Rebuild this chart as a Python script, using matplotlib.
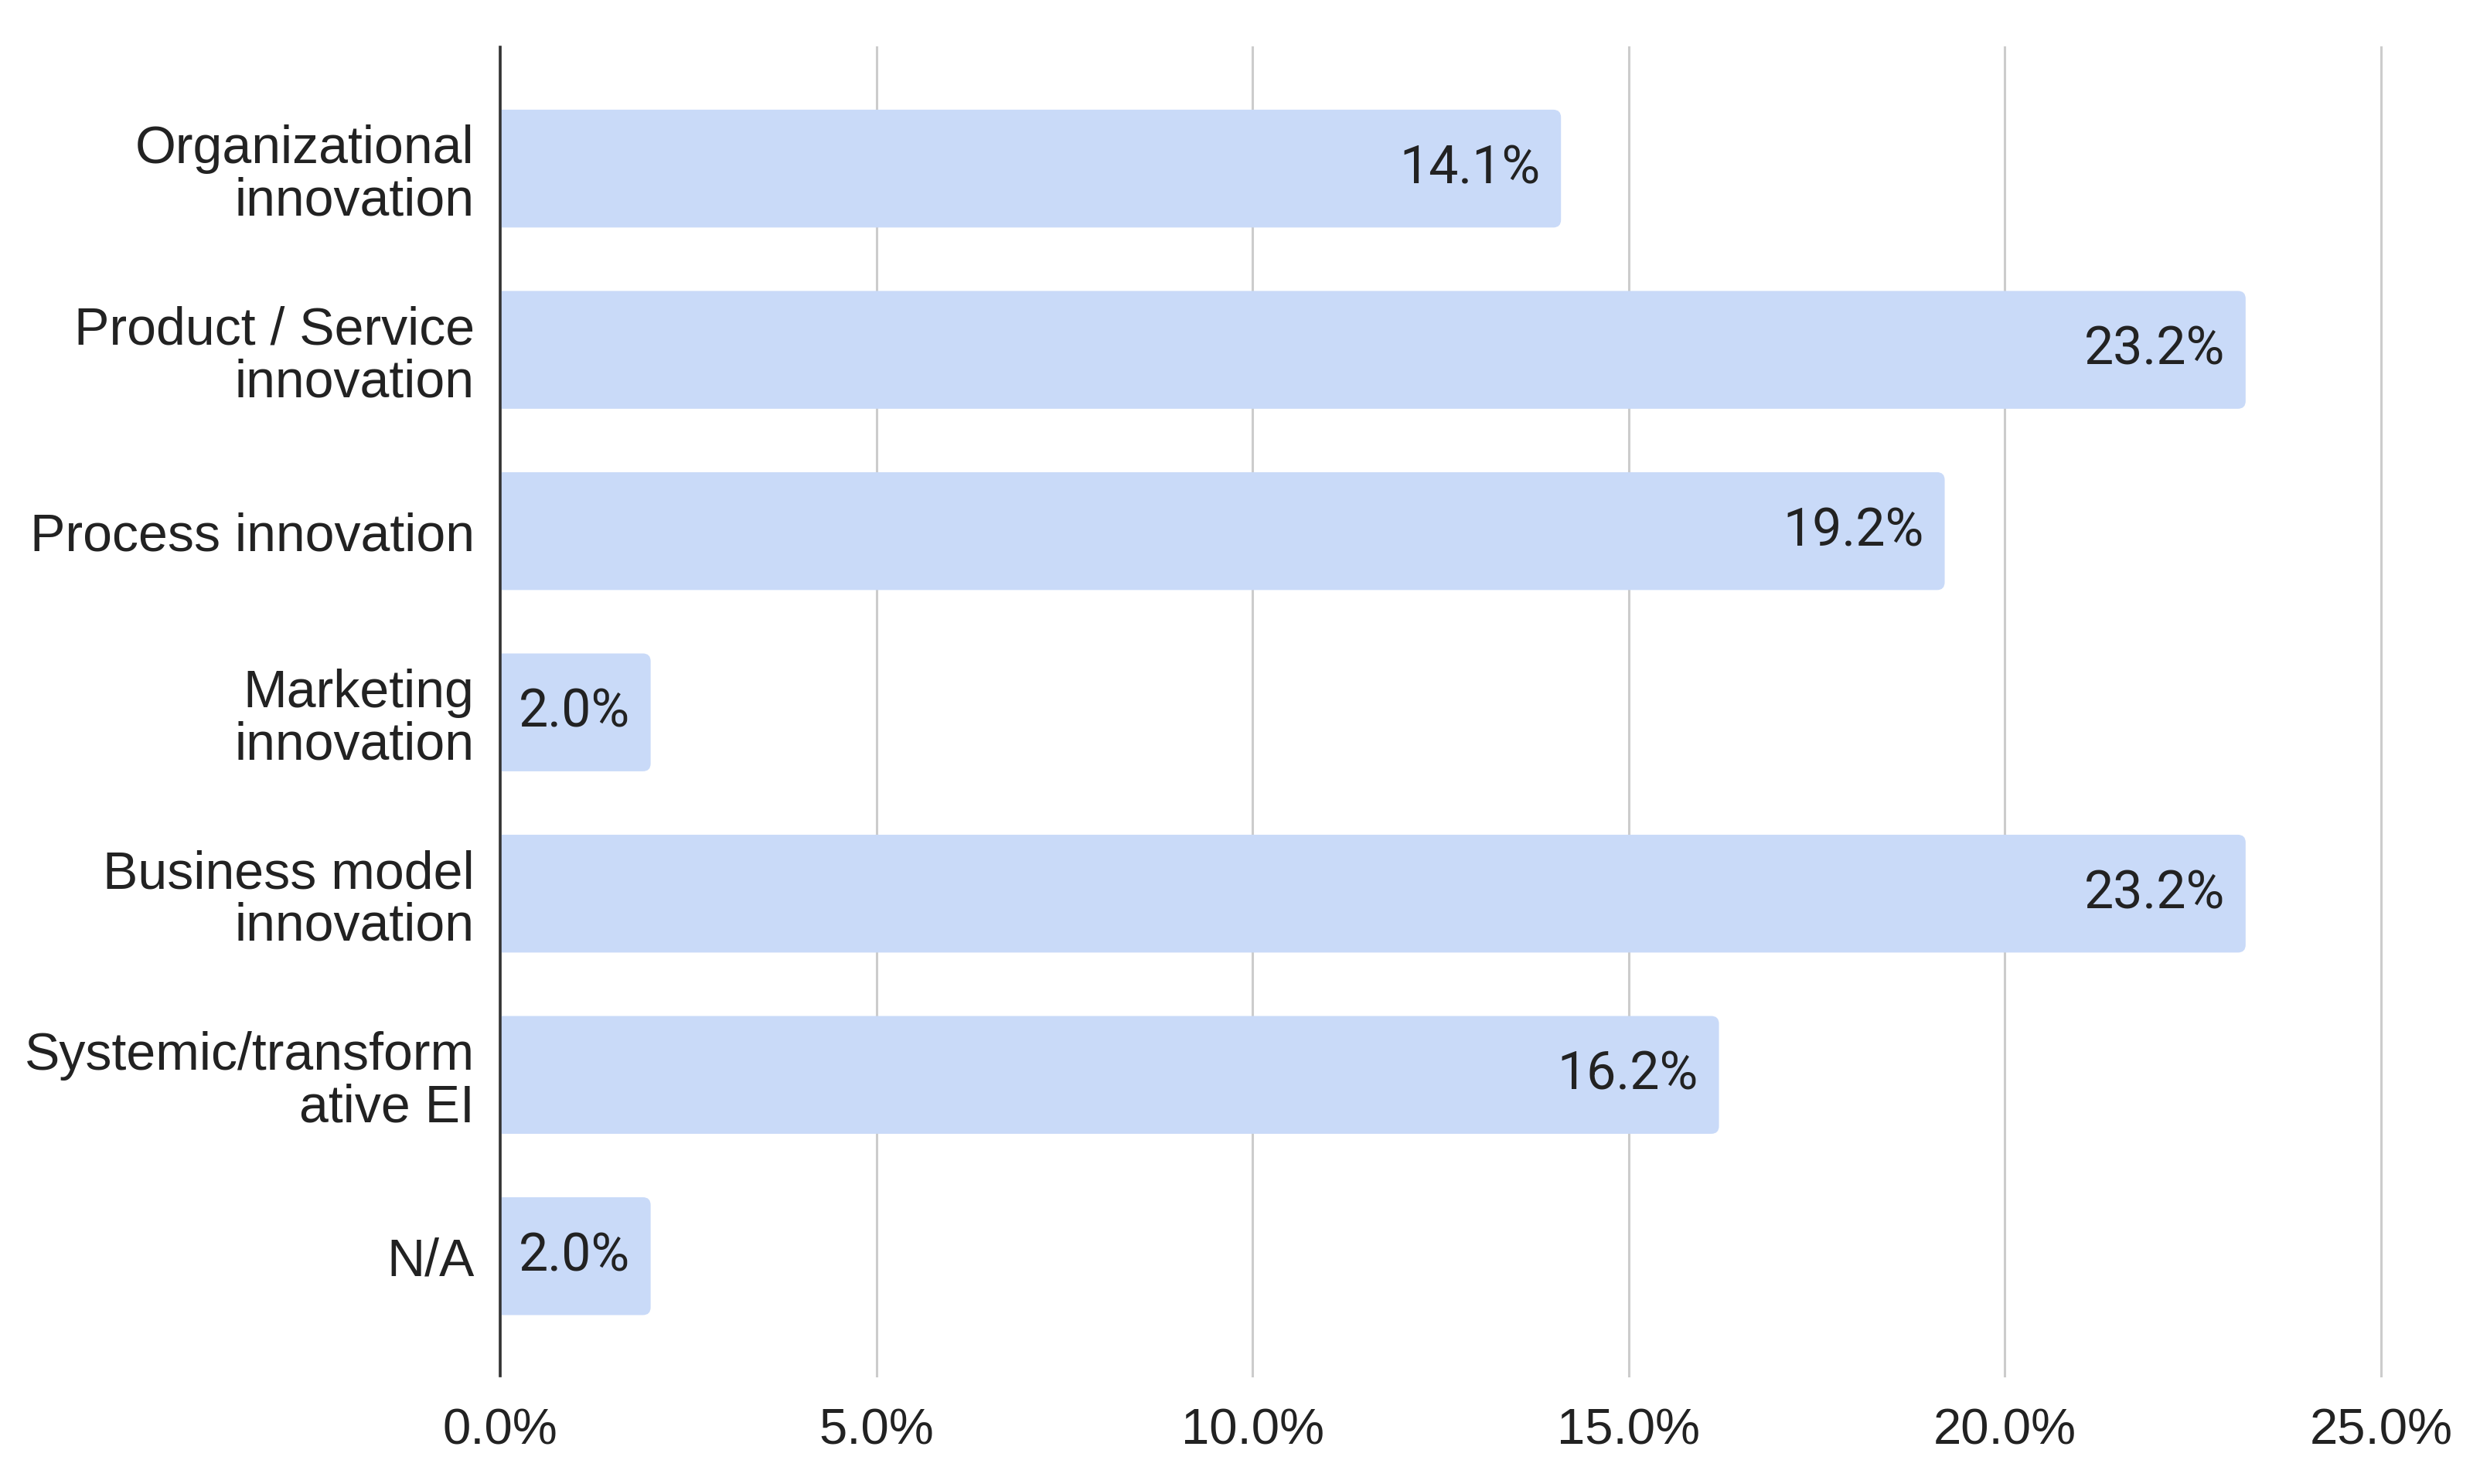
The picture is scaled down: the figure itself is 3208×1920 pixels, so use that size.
import matplotlib
matplotlib.use("Agg")
import matplotlib.pyplot as plt
from matplotlib.patches import FancyBboxPatch

categories = ["Organizational\ninnovation", "Product / Service\ninnovation", "Process innovation",
              "Marketing\ninnovation", "Business model\ninnovation", "Systemic/transform\native EI", "N/A"]
values = [14.1, 23.2, 19.2, 2.0, 23.2, 16.2, 2.0]
xticks = [0, 5, 10, 15, 20, 25]
xticklabels = ["0.0%", "5.0%", "10.0%", "15.0%", "20.0%", "25.0%"]

plt.rcParams['font.family'] = ['Liberation Sans', 'DejaVu Sans']

W, H = 3208, 1920
fig = plt.figure(figsize=(W / 100, H / 100), dpi=100)
left, right, top, bottom = 647 / W, 3080 / W, 1 - 61 / H, 1 - 1780 / H
ax = fig.add_axes([left, bottom, right - left, top - bottom])

ypos = list(range(len(categories)))
bars = ax.barh(ypos, values, height=0.65, color="#c9daf8", zorder=2)
ax.set_xlim(0, 25)
ax.set_ylim(6.66, -0.67)

# rounded right-hand corners
x_per_px = 25 / (W * (right - left))
y_per_px = (6.66 + 0.67) / (H * (top - bottom))
r = 10 * x_per_px
for b in bars:
    x0, y0 = b.get_x(), b.get_y()
    w, h = b.get_width(), b.get_height()
    b.set_visible(False)
    p = FancyBboxPatch((x0 - 1, y0), w + 1, h,
                       boxstyle=f"round,pad=0,rounding_size={r}",
                       mutation_aspect=y_per_px / x_per_px,
                       facecolor="#c9daf8", edgecolor="none", zorder=2)
    ax.add_patch(p)

for yv, v in zip(ypos, values):
    ax.text(v - 27 * x_per_px, yv, f"{v:.1f}%", ha="right", va="center",
            fontsize=49, color="#222222", zorder=3, family=["Roboto", "DejaVu Sans"])

ax.set_xticks(xticks)
ax.set_xticklabels(xticklabels, fontsize=47, color="#222222")
ax.set_yticks(ypos)
ax.set_yticklabels(categories, fontsize=49, color="#222222", linespacing=1.07)
ax.tick_params(axis="both", length=0)
ax.tick_params(axis="y", pad=24)
ax.tick_params(axis="x", pad=30)

ax.grid(axis="x", color="#cccccc", linewidth=2.2, zorder=0)
for gl in ax.get_xgridlines():
    gl.set_clip_on(False)
ax.set_axisbelow(True)
for s in ["top", "right", "bottom"]:
    ax.spines[s].set_visible(False)
ax.spines["left"].set_color("#333333")
ax.spines["left"].set_linewidth(2.6)
ax.spines["left"].set_zorder(4)

fig.savefig("out.png", dpi=100, facecolor="white")
